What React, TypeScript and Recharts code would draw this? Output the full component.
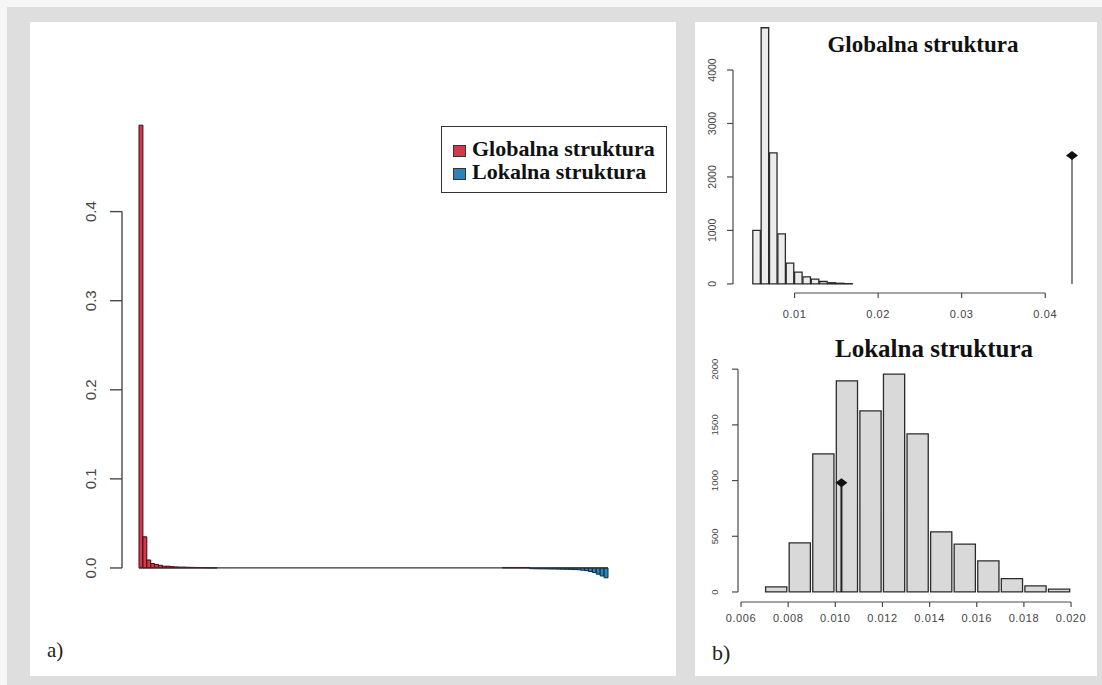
import React from 'react';
import { ComposedChart, Bar, XAxis, YAxis, ReferenceLine, ReferenceDot, Legend } from 'recharts';

const PAGE_W = 1102;
const PAGE_H = 685;

// a) ranked structure values (rank 1..120)
const globalna = [
  0.497, 0.035, 0.009, 0.005, 0.004, 0.003, 0.002, 0.002, 0.0015, 0.0012,
  0.001, 0.001, 0.0008, 0.0007, 0.0006, 0.0005, 0.0004, 0.0003, 0.0002, 0.0002,
  0, 0, 0, 0, 0, 0, 0, 0, 0, 0,
  0, 0, 0, 0, 0, 0, 0, 0, 0, 0,
  0, 0, 0, 0, 0, 0, 0, 0, 0, 0,
  0, 0, 0, 0, 0, 0, 0, 0, 0, 0,
  0, 0, 0, 0, 0, 0, 0, 0, 0, 0,
  0, 0, 0, 0, 0, 0, 0, 0, 0, 0,
  0, 0, 0, 0, 0, 0, 0, 0, 0, 0,
  0, 0, 0, 0.0006, 0.0006, 0.0006, 0.0006, 0.0006, 0.0006, 0.0006,
  0, 0, 0, 0, 0, 0, 0, 0, 0, 0,
  0, 0, 0, 0, 0, 0, 0, 0, 0, 0,
];
const lokalna = [
  0, 0, 0, 0, 0, 0, 0, 0, 0, 0,
  0, 0, 0, 0, 0, 0, 0, 0, 0, 0,
  0, 0, 0, 0, 0, 0, 0, 0, 0, 0,
  0, 0, 0, 0, 0, 0, 0, 0, 0, 0,
  0, 0, 0, 0, 0, 0, 0, 0, 0, 0,
  0, 0, 0, 0, 0, 0, 0, 0, 0, 0,
  0, 0, 0, 0, 0, 0, 0, 0, 0, 0,
  0, 0, 0, 0, 0, 0, 0, 0, 0, 0,
  0, 0, 0, 0, 0, 0, 0, 0, 0, 0,
  0, 0, 0, 0, 0, 0, 0, 0, 0, 0,
  -0.0008, -0.0009, -0.001, -0.001, -0.0011, -0.0012, -0.0012, -0.0013, -0.0014, -0.0015,
  -0.0016, -0.0018, -0.002, -0.0025, -0.003, -0.004, -0.005, -0.007, -0.009, -0.011,
];
const leftTicks = [0, 0.1, 0.2, 0.3, 0.4];

// b) permutation histograms, bins of 0.001
const binWidth = 0.001;
const globalBins = [0.005, 0.006, 0.007, 0.008, 0.009, 0.01, 0.011, 0.012, 0.013, 0.014, 0.015, 0.016];
const globalCounts = [1000, 4790, 2450, 935, 390, 220, 130, 90, 45, 22, 12, 5];
const globalObserved = 0.0432;
const globalObservedMark = 2400;
const globalXTicks = [0.01, 0.02, 0.03, 0.04];
const globalYTicks = [0, 1000, 2000, 3000, 4000];

const lokalBins = [0.007, 0.008, 0.009, 0.01, 0.011, 0.012, 0.013, 0.014, 0.015, 0.016, 0.017, 0.018, 0.019];
const lokalCounts = [45, 440, 1240, 1895, 1625, 1955, 1420, 540, 430, 280, 120, 55, 25];
const lokalObserved = 0.01026;
const lokalObservedMark = 980;
const lokalXTicks = [0.006, 0.008, 0.01, 0.012, 0.014, 0.016, 0.018, 0.02];
const lokalYTicks = [0, 500, 1000, 1500, 2000];

const sans = "'Liberation Sans', Arial, sans-serif";
const serif = "'Liberation Serif', 'Times New Roman', serif";
const axisColor = '#4a4a4a';

const leftData = globalna.map((g, i) => ({ rank: i + 1, globalna: g, lokalna: lokalna[i] }));

const rotTick = (fontSize: number, fmt: (v: number) => string) => (p: any) => (
  <text
    x={p.x}
    y={p.y}
    transform={`rotate(-90, ${p.x}, ${p.y})`}
    textAnchor="middle"
    dominantBaseline="central"
    fontSize={fontSize}
    fontFamily={sans}
    fill="#444"
  >
    {fmt(p.payload.value)}
  </text>
);

const flatTick = (fontSize: number, fmt: (v: number) => string) => (p: any) => (
  <text
    x={p.x}
    y={p.y}
    textAnchor="middle"
    dominantBaseline="central"
    fontSize={fontSize}
    fontFamily={sans}
    fill="#444"
    letterSpacing={0.6}
  >
    {fmt(p.payload.value)}
  </text>
);

const diamond = (p: any) => (
  <polygon
    points={`${p.cx - 6},${p.cy} ${p.cx},${p.cy - 4.5} ${p.cx + 6},${p.cy} ${p.cx},${p.cy + 4.5}`}
    fill="#111"
  />
);

const LegendBox = (props: any) => (
  <div
    style={{
      width: 226,
      height: 67,
      boxSizing: 'border-box',
      border: '1.5px solid #333',
      background: '#fff',
      padding: '10px 0 0 11px',
      fontFamily: serif,
      fontWeight: 'bold',
      fontSize: 22,
      color: '#111',
    }}
  >
    {(props.payload || []).map((e: any) => (
      <div key={e.value} style={{ display: 'flex', alignItems: 'center', height: 23, whiteSpace: 'nowrap' }}>
        <span
          style={{
            display: 'inline-block',
            width: 11,
            height: 10,
            background: e.color,
            border: '1px solid #333',
            marginRight: 6,
            marginTop: 5,
          }}
        />
        {e.value}
      </div>
    ))}
  </div>
);

interface HistProps {
  bins: number[];
  counts: number[];
  observed: number;
  observedMark: number;
  xTicks: number[];
  yTicks: number[];
  xDomain: [number, number];
  yDomain: [number, number];
  width: number;
  height: number;
  margin: { top: number; right: number; bottom: number; left: number };
  yAxisWidth: number;
  fill: string;
  stemColor: string;
  xFmt: (v: number) => string;
  xFont: number;
  yFont: number;
  xTickMargin: number;
  yTickMargin: number;
}

const Histogram = (h: HistProps) => {
  const data = h.bins.map((b, i) => ({ mid: b + binWidth / 2, count: h.counts[i] }));
  const plotW = h.width - h.margin.left - h.margin.right - h.yAxisWidth;
  const barSize = (plotW / (h.xDomain[1] - h.xDomain[0])) * binWidth;
  return (
    <ComposedChart width={h.width} height={h.height} data={data} margin={h.margin}>
      <XAxis
        type="number"
        dataKey="mid"
        domain={h.xDomain}
        ticks={h.xTicks}
        interval={0}
        allowDataOverflow
        axisLine={false}
        tickLine={{ stroke: axisColor, strokeWidth: 1.2 }}
        tickSize={5}
        tickMargin={h.xTickMargin}
        height={30}
        tick={flatTick(h.xFont, h.xFmt)}
      />
      <YAxis
        type="number"
        domain={h.yDomain}
        ticks={h.yTicks}
        interval={0}
        allowDataOverflow
        axisLine={false}
        tickLine={{ stroke: axisColor, strokeWidth: 1.2 }}
        tickSize={6}
        tickMargin={h.yTickMargin}
        width={h.yAxisWidth}
        tick={rotTick(h.yFont, (v) => String(v))}
      />
      <Bar dataKey="count" fill={h.fill} stroke="#2b2b2b" strokeWidth={1.3} barSize={barSize} isAnimationActive={false} />
      <ReferenceLine
        segment={[{ x: h.xTicks[0], y: h.yDomain[0] }, { x: h.xTicks[h.xTicks.length - 1], y: h.yDomain[0] }]}
        stroke={axisColor}
        strokeWidth={1.2}
        ifOverflow="visible"
      />
      <ReferenceLine
        segment={[{ x: h.xDomain[0], y: h.yTicks[0] }, { x: h.xDomain[0], y: h.yTicks[h.yTicks.length - 1] }]}
        stroke={axisColor}
        strokeWidth={1.2}
        ifOverflow="visible"
      />
      <ReferenceLine
        segment={[{ x: h.observed, y: 0 }, { x: h.observed, y: h.observedMark }]}
        stroke={h.stemColor}
        strokeWidth={2}
        ifOverflow="visible"
      />
      <ReferenceDot x={h.observed} y={h.observedMark} r={5} shape={diamond} ifOverflow="visible" />
    </ComposedChart>
  );
};

export default function App() {
  return (
    <div style={{ position: 'absolute', left: 0, top: 0, width: PAGE_W, height: PAGE_H, overflow: 'hidden', background: '#f6f6f6' }}>
      <div style={{ position: 'absolute', left: 7, top: 7, width: PAGE_W - 7, height: PAGE_H - 7, background: '#dedede' }} />
      <div style={{ position: 'absolute', left: 30, top: 22, width: 646, height: 654, background: '#fff' }} />
      <div style={{ position: 'absolute', left: 695, top: 22, width: 402, height: 654, background: '#fff' }} />

      <div style={{ position: 'absolute', left: 30, top: 22 }}>
        <ComposedChart
          width={646}
          height={654}
          data={leftData}
          stackOffset="sign"
          margin={{ top: 82.7, right: 56, bottom: 81.3, left: 32 }}
        >
          <XAxis type="number" dataKey="rank" domain={[-3.85, 123.57]} allowDataOverflow hide />
          <YAxis
            type="number"
            domain={[-0.03, 0.52]}
            ticks={leftTicks}
            interval={0}
            allowDataOverflow
            axisLine={false}
            tickLine={{ stroke: axisColor, strokeWidth: 1.4 }}
            tickSize={12}
            tickMargin={19}
            width={60}
            tick={rotTick(15, (v) => v.toFixed(1))}
          />
          <Bar dataKey="globalna" name="Globalna struktura" stackId="s" fill="#d13a4d" stroke="#3a0d12" strokeWidth={1} barSize={3.908} isAnimationActive={false} />
          <Bar dataKey="lokalna" name="Lokalna struktura" stackId="s" fill="#2f82b8" stroke="#0e2a3a" strokeWidth={1} barSize={3.908} isAnimationActive={false} />
          <ReferenceLine
            segment={[{ x: 0.5, y: 0 }, { x: leftData.length + 0.5, y: 0 }]}
            stroke="#333"
            strokeWidth={1.2}
            ifOverflow="visible"
          />
          <ReferenceLine
            segment={[{ x: -3.85, y: leftTicks[0] }, { x: -3.85, y: leftTicks[leftTicks.length - 1] }]}
            stroke={axisColor}
            strokeWidth={1.4}
            ifOverflow="visible"
          />
          <Legend
            layout="vertical"
            align="center"
            verticalAlign="middle"
            content={LegendBox}
            wrapperStyle={{ position: 'absolute', left: 411, top: 104, width: 226 }}
          />
        </ComposedChart>
      </div>

      <div style={{ position: 'absolute', left: 695, top: 12 }}>
        <Histogram
          bins={globalBins}
          counts={globalCounts}
          observed={globalObserved}
          observedMark={globalObservedMark}
          xTicks={globalXTicks}
          yTicks={globalYTicks}
          xDomain={[0.00263, 0.0444]}
          yDomain={[-170, 4950]}
          width={399}
          height={311}
          margin={{ top: 7.2, right: 12, bottom: 0, left: 8 }}
          yAxisWidth={30}
          fill="#ececec"
          stemColor="#888"
          xFmt={(v) => v.toFixed(2)}
          xFont={11}
          yFont={10.5}
          xTickMargin={16}
          yTickMargin={15}
        />
      </div>

      <div style={{ position: 'absolute', left: 695, top: 330 }}>
        <Histogram
          bins={lokalBins}
          counts={lokalCounts}
          observed={lokalObserved}
          observedMark={lokalObservedMark}
          xTicks={lokalXTicks}
          yTicks={lokalYTicks}
          xDomain={[0.005872, 0.02038]}
          yDomain={[-90, 2050]}
          width={399}
          height={310}
          margin={{ top: 33.6, right: 14, bottom: 8, left: 13 }}
          yAxisWidth={30}
          fill="#d9d9d9"
          stemColor="#222"
          xFmt={(v) => v.toFixed(3)}
          xFont={11}
          yFont={9.5}
          xTickMargin={11}
          yTickMargin={17}
        />
      </div>

      <svg width={PAGE_W} height={PAGE_H} style={{ position: 'absolute', left: 0, top: 0, pointerEvents: 'none' }}>
        <text x={923} y={52} textAnchor="middle" fontFamily={serif} fontWeight="bold" fontSize={23} fill="#111">
          Globalna struktura
        </text>
        <text x={934} y={357} textAnchor="middle" fontFamily={serif} fontWeight="bold" fontSize={25} fill="#111">
          Lokalna struktura
        </text>
        <text x={47} y={657} fontFamily={serif} fontSize={21} fill="#222">a)</text>
        <text x={712} y={660} fontFamily={serif} fontSize={22} fill="#222">b)</text>
      </svg>
    </div>
  );
}
